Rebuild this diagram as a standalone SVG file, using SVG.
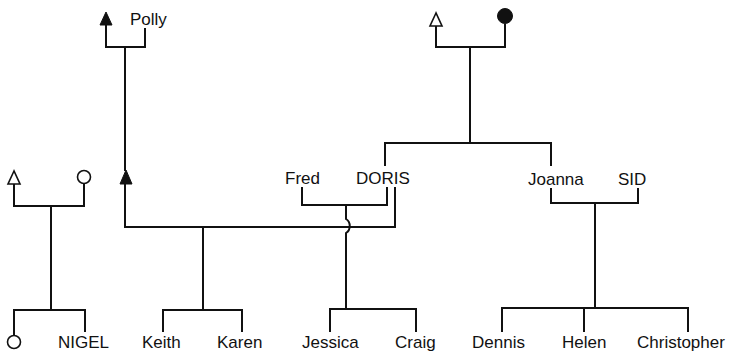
<svg xmlns="http://www.w3.org/2000/svg" width="733" height="354" viewBox="0 0 733 354">
<style>
.ln{fill:none;stroke:#111;stroke-width:2;stroke-linejoin:miter}
.t{font-family:"Liberation Sans",Arial,sans-serif;font-size:17px;fill:#111}
.open{fill:#fff;stroke:#111;stroke-width:1.6}
.fill{fill:#111;stroke:#111;stroke-width:1}
</style>
<rect width="733" height="354" fill="#fff"/>
<g id="connectors">
<path class="ln" d="M106,25 V47 H145 V28 M125,47 V171 M125,184 V227 H395 V187"/>
<path class="ln" d="M14,184 V206 H84 V184 M51,206 V310 M14,335 V310 H85 V332"/>
<path class="ln" d="M436,26 V47 H505 V24 M470,47 V143 M385,166 V143 H551 V166"/>
<path class="ln" d="M302,187 V205 H387 V187"/>
<path class="ln" d="M346,205 V219 C351,222 351,230 346,233 V309 M330,332 V309 H416 V332"/>
<path class="ln" d="M203,227 V310 M163,332 V310 H242 V332"/>
<path class="ln" d="M551,188 V203 H638 V188 M595,203 V308 M502,332 V308 H688 V332 M584,308 V332"/>
</g>
<g id="polly-husband"><polygon class="fill" points="106,12 100,25 112,25"/></g>
<g id="polly"><text class="t" x="130" y="25">Polly</text></g>
<g id="polly-son"><polygon class="fill" points="126,170 120,184 132,184"/></g>
<g id="gp-male"><polygon class="open" points="436,13 430,26 442,26"/></g>
<g id="gp-female"><circle class="fill" cx="505" cy="16" r="7.5"/></g>
<g id="nigel-father"><polygon class="open" points="14,171 8,184 20,184"/></g>
<g id="nigel-mother"><circle class="open" cx="84" cy="177" r="6.5"/></g>
<g id="nigel-sibling"><circle class="open" cx="14" cy="342" r="6.5"/></g>
<g id="nigel"><text class="t" x="58" y="348">NIGEL</text></g>
<g id="fred"><text class="t" x="285" y="184">Fred</text></g>
<g id="doris"><text class="t" x="356" y="184">DORIS</text></g>
<g id="joanna"><text class="t" x="528" y="185">Joanna</text></g>
<g id="sid"><text class="t" x="618" y="185">SID</text></g>
<g id="keith"><text class="t" x="142" y="348">Keith</text></g>
<g id="karen"><text class="t" x="217" y="348">Karen</text></g>
<g id="jessica"><text class="t" x="302" y="348">Jessica</text></g>
<g id="craig"><text class="t" x="395" y="348">Craig</text></g>
<g id="dennis"><text class="t" x="472" y="348">Dennis</text></g>
<g id="helen"><text class="t" x="562" y="348">Helen</text></g>
<g id="christopher"><text class="t" x="637" y="348">Christopher</text></g>
</svg>
